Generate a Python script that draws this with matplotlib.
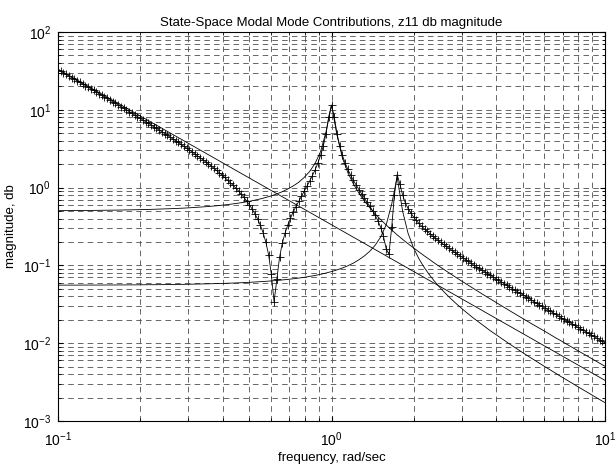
"""z11 modal mode contributions: rigid body, mode 1, mode 2 and their sum, log-log."""
import matplotlib
matplotlib.use("Agg")
import matplotlib.pyplot as plt

# frequency grid, rad/sec (log spaced, 0.1 .. 10)
freq = [
    0.1, 0.1023, 0.1047, 0.1072, 0.1096, 0.1122, 0.1148, 0.1175, 0.1202, 0.123,
    0.1259, 0.1288, 0.1318, 0.1349, 0.138, 0.1413, 0.1445, 0.1479, 0.1514, 0.1549,
    0.1585, 0.1622, 0.166, 0.1698, 0.1738, 0.1778, 0.182, 0.1862, 0.1905, 0.195,
    0.1995, 0.2042, 0.2089, 0.2138, 0.2188, 0.2239, 0.2291, 0.2344, 0.2399, 0.2455,
    0.2512, 0.257, 0.263, 0.2692, 0.2754, 0.2818, 0.2884, 0.2951, 0.302, 0.309,
    0.3162, 0.3236, 0.3311, 0.3388, 0.3467, 0.3548, 0.3631, 0.3715, 0.3802, 0.389,
    0.3981, 0.4074, 0.4169, 0.4266, 0.4365, 0.4467, 0.4571, 0.4677, 0.4786, 0.4898,
    0.5012, 0.5129, 0.5248, 0.537, 0.5495, 0.5623, 0.5754, 0.5888, 0.6026, 0.6166,
    0.631, 0.6457, 0.6607, 0.6761, 0.6918, 0.7079, 0.7244, 0.7413, 0.7586, 0.7762,
    0.7943, 0.8128, 0.8318, 0.8511, 0.871, 0.8913, 0.912, 0.9333, 0.955, 0.9772,
    1.0, 1.023, 1.047, 1.072, 1.096, 1.122, 1.148, 1.175, 1.202, 1.23,
    1.259, 1.288, 1.318, 1.349, 1.38, 1.413, 1.445, 1.479, 1.514, 1.549,
    1.585, 1.622, 1.66, 1.698, 1.738, 1.778, 1.82, 1.862, 1.905, 1.95,
    1.995, 2.042, 2.089, 2.138, 2.188, 2.239, 2.291, 2.344, 2.399, 2.455,
    2.512, 2.57, 2.63, 2.692, 2.754, 2.818, 2.884, 2.951, 3.02, 3.09,
    3.162, 3.236, 3.311, 3.388, 3.467, 3.548, 3.631, 3.715, 3.802, 3.89,
    3.981, 4.074, 4.169, 4.266, 4.365, 4.467, 4.571, 4.677, 4.786, 4.898,
    5.012, 5.129, 5.248, 5.37, 5.495, 5.623, 5.754, 5.888, 6.026, 6.166,
    6.31, 6.457, 6.607, 6.761, 6.918, 7.079, 7.244, 7.413, 7.586, 7.762,
    7.943, 8.128, 8.318, 8.511, 8.71, 8.913, 9.12, 9.333, 9.55, 9.772,
    10.0,
]

# total z11 magnitude (plotted with '+' markers), one value per freq
total = [
    32.8, 31.3, 29.8, 28.5, 27.2, 25.9, 24.7, 23.6, 22.5, 21.5,
    20.5, 19.5, 18.6, 17.8, 16.9, 16.1, 15.4, 14.7, 14.0, 13.3,
    12.7, 12.1, 11.5, 11.0, 10.5, 9.97, 9.49, 9.04, 8.61, 8.19,
    7.8, 7.42, 7.06, 6.71, 6.38, 6.07, 5.77, 5.48, 5.21, 4.94,
    4.69, 4.45, 4.22, 4.01, 3.8, 3.6, 3.41, 3.22, 3.05, 2.88,
    2.72, 2.57, 2.42, 2.28, 2.15, 2.02, 1.89, 1.78, 1.66, 1.55,
    1.45, 1.35, 1.25, 1.16, 1.07, 0.987, 0.904, 0.824, 0.747, 0.672,
    0.599, 0.529, 0.46, 0.393, 0.327, 0.263, 0.199, 0.137, 0.0773, 0.034,
    0.0665, 0.127, 0.192, 0.259, 0.33, 0.405, 0.485, 0.571, 0.667, 0.773,
    0.895, 1.04, 1.21, 1.42, 1.69, 2.06, 2.59, 3.43, 4.95, 8.19,
    11.5, 8.19, 4.95, 3.44, 2.6, 2.07, 1.71, 1.44, 1.24, 1.08,
    0.945, 0.833, 0.737, 0.652, 0.576, 0.505, 0.439, 0.373, 0.306, 0.236,
    0.163, 0.139, 0.31, 0.798, 1.47, 1.11, 0.8, 0.637, 0.538, 0.47,
    0.419, 0.379, 0.346, 0.318, 0.294, 0.274, 0.255, 0.238, 0.223, 0.21,
    0.197, 0.186, 0.175, 0.165, 0.156, 0.148, 0.14, 0.132, 0.125, 0.119,
    0.113, 0.107, 0.101, 0.0964, 0.0915, 0.087, 0.0827, 0.0786, 0.0748, 0.0711,
    0.0677, 0.0644, 0.0613, 0.0584, 0.0556, 0.0529, 0.0504, 0.048, 0.0457, 0.0436,
    0.0415, 0.0396, 0.0377, 0.036, 0.0343, 0.0327, 0.0312, 0.0297, 0.0283, 0.027,
    0.0258, 0.0246, 0.0235, 0.0224, 0.0213, 0.0204, 0.0194, 0.0185, 0.0177, 0.0169,
    0.0161, 0.0154, 0.0147, 0.014, 0.0134, 0.0128, 0.0122, 0.0116, 0.0111, 0.0106,
    0.0101,
]

# single-mode curves use every other grid point
mode_freq = freq[::2]

mode1 = [
    0.505, 0.506, 0.506, 0.507, 0.507, 0.508, 0.509, 0.51, 0.511, 0.512,
    0.513, 0.514, 0.516, 0.517, 0.519, 0.521, 0.523, 0.525, 0.528, 0.531,
    0.534, 0.537, 0.541, 0.545, 0.55, 0.556, 0.562, 0.568, 0.576, 0.584,
    0.594, 0.605, 0.618, 0.632, 0.648, 0.667, 0.69, 0.716, 0.747, 0.784,
    0.83, 0.886, 0.958, 1.05, 1.17, 1.35, 1.61, 2.05, 2.9, 5.21,
    11.5, 4.75, 2.42, 1.55, 1.12, 0.852, 0.676, 0.551, 0.458, 0.387,
    0.33, 0.285, 0.247, 0.216, 0.19, 0.168, 0.149, 0.132, 0.118, 0.105,
    0.0942, 0.0845, 0.0759, 0.0683, 0.0616, 0.0556, 0.0502, 0.0454, 0.041, 0.0372,
    0.0337, 0.0305, 0.0277, 0.0251, 0.0228, 0.0207, 0.0188, 0.0171, 0.0156, 0.0142,
    0.0129, 0.0117, 0.0107, 0.00971, 0.00884, 0.00805, 0.00733, 0.00668, 0.00608, 0.00554,
    0.00505,
]

mode2 = [
    0.0557, 0.0558, 0.0558, 0.0558, 0.0558, 0.0559, 0.0559, 0.0559, 0.0559, 0.056,
    0.056, 0.0561, 0.0561, 0.0562, 0.0562, 0.0563, 0.0564, 0.0565, 0.0565, 0.0566,
    0.0567, 0.0569, 0.057, 0.0571, 0.0573, 0.0575, 0.0577, 0.0579, 0.0581, 0.0584,
    0.0587, 0.059, 0.0593, 0.0597, 0.0601, 0.0606, 0.0612, 0.0618, 0.0624, 0.0632,
    0.064, 0.065, 0.0661, 0.0673, 0.0687, 0.0703, 0.0722, 0.0743, 0.0768, 0.0798,
    0.0833, 0.0875, 0.0926, 0.099, 0.107, 0.118, 0.132, 0.152, 0.182, 0.233,
    0.333, 0.614, 1.37, 0.496, 0.259, 0.168, 0.121, 0.093, 0.074, 0.0604,
    0.0503, 0.0425, 0.0363, 0.0313, 0.0272, 0.0238, 0.0209, 0.0185, 0.0164, 0.0145,
    0.013, 0.0116, 0.0104, 0.00931, 0.00837, 0.00753, 0.00679, 0.00613, 0.00553, 0.005,
    0.00453, 0.0041, 0.00371, 0.00337, 0.00306, 0.00277, 0.00252, 0.00229, 0.00208, 0.00189,
    0.00172,
]

# rigid body mode is a straight line on log-log axes
rigid_freq = [0.1, 10.0]
rigid = [33.3, 0.00333]


plt.rcParams["font.family"] = ["Liberation Sans", "DejaVu Sans"]
plt.rcParams["lines.scale_dashes"] = False

fig = plt.figure(figsize=(6.15, 4.73), dpi=100)
ax = fig.add_axes([58 / 615, 1 - 421 / 473, 547 / 615, 389 / 473])

ax.loglog(rigid_freq, rigid, "k-", lw=0.6)
ax.loglog(mode_freq, mode1, "k-", lw=0.6)
ax.loglog(mode_freq, mode2, "k-", lw=0.6)
ax.loglog(freq, total, "k+-", lw=0.6, ms=6, mew=0.6)

ax.set_xlim(0.1, 10)
ax.set_ylim(1e-3, 1e2)
ax.grid(True, which="both", ls=(0, (4, 3)), color="0.3", lw=0.6)
ax.tick_params(which="both", direction="in", top=True, right=True, labelsize=10)
ax.tick_params(axis="x", pad=7)
ax.tick_params(axis="y", pad=5)

ax.set_title("State-Space Modal Mode Contributions, z11 db magnitude", fontsize=9.5, pad=4)
ax.set_xlabel("frequency, rad/sec", fontsize=9.5, labelpad=2)
ax.set_ylabel("magnitude, db", fontsize=9.5)

fig.savefig("out.png")
